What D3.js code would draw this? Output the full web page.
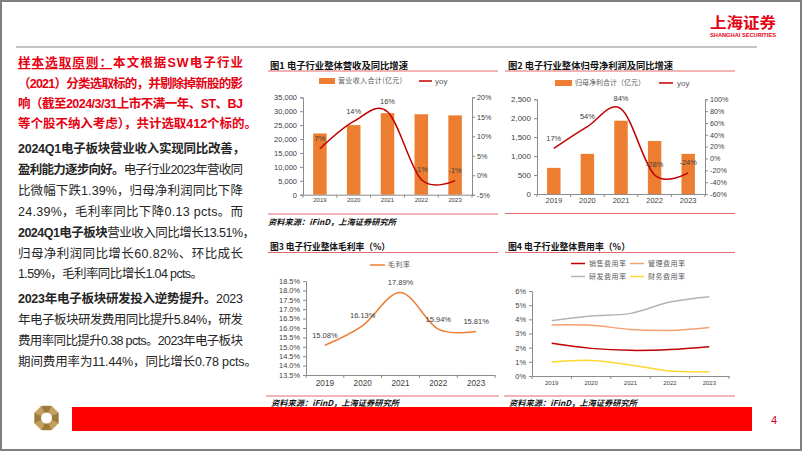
<!DOCTYPE html>
<html><head><meta charset="utf-8">
<script src="https://cdn.jsdelivr.net/npm/d3@7"></script>
<style>
body{margin:0;background:#fff;}
svg{display:block;}
text{font-family:"Liberation Sans",Arial,"Noto Sans CJK SC",sans-serif;}
</style></head><body>
<svg id="c" width="802" height="451"></svg>
<script>
// ---------- data ----------
const years = ["2019","2020","2021","2022","2023"];
const revenue = [22000, 25000, 29300, 28900, 28500];
const revenueYoy = [6.8, 13.8, 16.3, -1.1, -1.39];
const revenueYoyLabels = ["7%","14%","16%","-1%","-1%"];
const revTicks = [0,5000,10000,15000,20000,25000,30000,35000];
const revYoyTicks = [-5,0,5,10,15,20];

const profit = [690, 1060, 1935, 1400, 1060];
const profitYoy = [17, 54, 84, -28, -24.39];
const profitYoyLabels = ["17%","54%","84%","-28%","-24%"];
const profitTicks = [0,500,1000,1500,2000,2500];
const profitYoyTicks = [-60,-40,-20,0,20,40,60,80,100];

const grossMargin = [15.08, 16.13, 17.89, 15.94, 15.81];
const grossMarginLabels = ["15.08%","16.13%","17.89%","15.94%","15.81%"];
const gmTicks = [13.5,14,14.5,15,15.5,16,16.5,17,17.5,18,18.5];

const salesRate = [2.31, 1.95, 1.81, 1.87, 2.07];
const adminRate = [3.60, 3.58, 3.29, 3.22, 3.43];
const rdRate = [3.90, 4.23, 4.42, 5.22, 5.60];
const finRate = [0.99, 1.10, 0.78, 0.35, 0.30];
const feeTicks = [0,1,2,3,4,5,6];
const feeSeriesNames = ["销售费用率","管理费用率","研发费用率","财务费用率"];

// ---------- helpers ----------
const svg = d3.select("#c");
svg.append("rect").attr("width",802).attr("height",451).attr("fill","#fff");
svg.append("rect").attr("x",1).attr("y",1).attr("width",800).attr("height",449)
  .attr("fill","none").attr("stroke","#7f7f7f").attr("stroke-width",2);

const AX = "#8c8c8c", TX = "#404040", RED_LINE = "#e46a6a";
const CJK = "'Noto Sans CJK SC',sans-serif";

function styleAxis(g, fs){
  g.select(".domain").attr("stroke",AX);
  g.selectAll(".tick line").attr("stroke",AX);
  g.selectAll("text").attr("fill",TX).style("font-size",fs+"px")
    .style("font-family","'Liberation Sans',Arial,sans-serif");
}
function title(x,y,txt,len){
  svg.append("text").attr("x",x).attr("y",y).text(txt)
    .style("font-family",CJK).style("font-weight","bold").style("font-size","9px")
    .attr("fill","#111").attr("textLength",len).attr("lengthAdjust","spacingAndGlyphs");
}
function hline(x1,x2,y,color,w){
  svg.append("line").attr("x1",x1).attr("x2",x2).attr("y1",y).attr("y2",y)
    .attr("stroke",color).attr("stroke-width",w);
}
function source(x,y){
  svg.append("text").attr("x",x).attr("y",y).text("资料来源：iFinD，上海证券研究所")
    .style("font-family",CJK).style("font-weight","bold").style("font-style","italic")
    .style("font-size","8px").attr("fill","#111").attr("textLength",128).attr("lengthAdjust","spacingAndGlyphs");
}
function legendText(x,y,txt,len){
  svg.append("text").attr("x",x).attr("y",y).attr("dy","0.35em").text(txt)
    .style("font-family",CJK).style("font-size","7px").attr("fill","#595959")
    .attr("textLength",len).attr("lengthAdjust","spacing");
}
function boundaryTicks(xs, y){
  const step = xs.step(), dom = xs.domain();
  const b = dom.map(d => xs(d) + xs.bandwidth()/2 - step/2);
  b.push(xs(dom[dom.length-1]) + xs.bandwidth()/2 + step/2);
  svg.append("g").selectAll("line").data(b).join("line")
    .attr("x1",d=>d).attr("x2",d=>d).attr("y1",y).attr("y2",y+3).attr("stroke",AX);
}
const smooth = d3.curveCatmullRom.alpha(0);

// ---------- header ----------
hline(16,757,47,"#8c8c8c",1.2);
svg.append("text").attr("x",710).attr("y",27.5).text("上海证券")
  .style("font-family",CJK).style("font-weight","bold").style("font-size","15px")
  .attr("fill","#e60012").attr("textLength",66).attr("lengthAdjust","spacingAndGlyphs");
svg.append("text").attr("x",710).attr("y",37).text("SHANGHAI SECURITIES")
  .style("font-weight","bold").style("font-size","6px")
  .attr("fill","#e60012").attr("textLength",66).attr("lengthAdjust","spacingAndGlyphs");

// ---------- left text ----------
const RED = "#e60012", BLK = "#262626";
const paraLines = [
  {y:67, c:RED, w:225, s:[["样本选取原则：",1,1],["本文根据",1],["SW",1],["电子行业",1]]},
  {y:88, c:RED, w:225, s:[["（",1],["2021",1],["）分类选取标的，并剔除掉新股的影",1]]},
  {y:108, c:RED, w:225, s:[["响（截至",1],["2024/3/31",1],["上市不满一年、",1],["ST",1],["、",1],["BJ",1]]},
  {y:128, c:RED, w:239, s:[["等个股不纳入考虑），共计选取",1],["412",1],["个标的。",1]]},
  {y:153, c:BLK, w:227, s:[["2024Q1电子板块营业收入实现同比改善，",1]]},
  {y:174, c:BLK, w:225, s:[["盈利能力逐步向好。",1],["电子行业2023年营收同",0]]},
  {y:195, c:BLK, w:225, s:[["比微幅下跌1.39%，归母净利润同比下降",0]]},
  {y:216, c:BLK, w:225, s:[["24.39%，毛利率同比下降0.13 pcts。而",0]]},
  {y:237, c:BLK, w:237, s:[["2024Q1电子板块",1],["营业收入同比增长13.51%，",0]]},
  {y:258, c:BLK, w:225, s:[["归母净利润同比增长60.82%、环比成长",0]]},
  {y:278, c:BLK, w:185, s:[["1.59%，毛利率同比增长1.04 pcts。",0]]},
  {y:303, c:BLK, w:225, s:[["2023年电子板块研发投入逆势提升。",1],["2023",0]]},
  {y:324, c:BLK, w:225, s:[["年电子板块研发费用同比提升5.84%，研发",0]]},
  {y:345, c:BLK, w:225, s:[["费用率同比提升0.38 pcts。2023年电子板块",0]]},
  {y:366, c:BLK, w:239, s:[["期间费用率为11.44%，同比增长0.78 pcts。",0]]}
];
paraLines.forEach(L=>{
  const t = svg.append("text").attr("x",18).attr("y",L.y).attr("fill",L.c)
    .style("font-size","12.5px").style("font-family","'Liberation Sans','Noto Sans CJK SC',sans-serif")
    .attr("textLength",L.w).attr("lengthAdjust","spacing");
  L.s.forEach(seg=>{
    const ts = t.append("tspan").text(seg[0]).style("font-weight",seg[1]?"bold":"normal");
    if(seg[2]) ts.style("text-decoration","underline");
  });
});

// ---------- chart 1 ----------
title(270,68.5,"图1 电子行业整体营收及同比增速",138);
hline(268,498,71,RED_LINE,1);
svg.append("rect").attr("x",319).attr("y",78).attr("width",16).attr("height",6).attr("fill","#ED7D31");
legendText(338,81,"营业收入合计(亿元)",64);
hline(419,432,81,"#c00000",1.5);
svg.append("text").attr("x",435).attr("y",81).attr("dy","0.35em").text("yoy")
  .style("font-size","8px").attr("fill","#595959");

const x1 = d3.scaleBand(years,[303,472]).paddingInner(0.6).paddingOuter(0.3);
const yL1 = d3.scaleLinear([0,35000],[194.7,97.3]);
const yR1 = d3.scaleLinear([-5,20],[194.7,97.3]);
svg.append("g").selectAll("rect").data(years).join("rect")
  .attr("x",d=>x1(d)).attr("width",x1.bandwidth())
  .attr("y",(d,i)=>yL1(revenue[i])).attr("height",(d,i)=>yL1(0)-yL1(revenue[i]))
  .attr("fill","#ED7D31");
styleAxis(svg.append("g").attr("transform","translate(303,0)")
  .call(d3.axisLeft(yL1).tickValues(revTicks).tickFormat(d3.format(",")).tickSize(3).tickPadding(3)),7.5);
styleAxis(svg.append("g").attr("transform","translate(472,0)")
  .call(d3.axisRight(yR1).tickValues(revYoyTicks).tickFormat(d=>d+"%").tickSize(3).tickPadding(2)),7.2);
styleAxis(svg.append("g").attr("transform","translate(0,194.7)")
  .call(d3.axisBottom(x1).tickSize(0).tickPadding(3)),6);
boundaryTicks(x1,194.7);
const cx1 = d=>x1(d)+x1.bandwidth()/2;
svg.append("path").datum(revenueYoy)
  .attr("d",d3.line().x((d,i)=>cx1(years[i])).y(d=>yR1(d)).curve(smooth))
  .attr("fill","none").attr("stroke","#c00000").attr("stroke-width",1.5);
svg.append("g").selectAll("text").data(revenueYoyLabels).join("text")
  .attr("x",(d,i)=>cx1(years[i])).attr("y",(d,i)=>yR1(revenueYoy[i])-7.3)
  .attr("text-anchor","middle").text(d=>d).style("font-size","7.5px").attr("fill",TX);
hline(268,498,214,RED_LINE,1);
source(268,225);

// ---------- chart 2 ----------
title(508,68.5,"图2 电子行业整体归母净利润及同比增速",165);
hline(505,735,71,RED_LINE,1);
svg.append("rect").attr("x",555).attr("y",80).attr("width",17).attr("height",6).attr("fill","#ED7D31");
legendText(575,83,"归母净利合计（亿元）",70);
hline(659,673,83,"#c00000",1.5);
svg.append("text").attr("x",677).attr("y",83).attr("dy","0.35em").text("yoy")
  .style("font-size","8px").attr("fill","#595959");

const x2 = d3.scaleBand(years,[537,705]).paddingInner(0.6).paddingOuter(0.3);
const yL2 = d3.scaleLinear([0,2500],[194,99.3]);
const yR2 = d3.scaleLinear([-60,100],[194,99.3]);
svg.append("g").selectAll("rect").data(years).join("rect")
  .attr("x",d=>x2(d)).attr("width",x2.bandwidth())
  .attr("y",(d,i)=>yL2(profit[i])).attr("height",(d,i)=>yL2(0)-yL2(profit[i]))
  .attr("fill","#ED7D31");
styleAxis(svg.append("g").attr("transform","translate(537,0)")
  .call(d3.axisLeft(yL2).tickValues(profitTicks).tickFormat(d3.format(",")).tickSize(3).tickPadding(3)),8);
styleAxis(svg.append("g").attr("transform","translate(705,0)")
  .call(d3.axisRight(yR2).tickValues(profitYoyTicks).tickFormat(d=>d+"%").tickSize(3).tickPadding(2)),7.2);
styleAxis(svg.append("g").attr("transform","translate(0,194)")
  .call(d3.axisBottom(x2).tickSize(0).tickPadding(4)),7.5);
boundaryTicks(x2,194);
const cx2 = d=>x2(d)+x2.bandwidth()/2;
svg.append("path").datum(profitYoy)
  .attr("d",d3.line().x((d,i)=>cx2(years[i])).y(d=>yR2(d)).curve(smooth))
  .attr("fill","none").attr("stroke","#c00000").attr("stroke-width",1.5);
svg.append("g").selectAll("text").data(profitYoyLabels).join("text")
  .attr("x",(d,i)=>cx2(years[i])).attr("y",(d,i)=>yR2(profitYoy[i])-7.8)
  .attr("text-anchor","middle").text(d=>d).style("font-size","7.5px").attr("fill",TX);
hline(505,735,213.5,RED_LINE,1);

// ---------- chart 3 ----------
title(270,249.5,"图3 电子行业整体毛利率（%）",120);
hline(268,498,252.5,RED_LINE,1);
hline(370,385,265,"#ED7D31",1.5);
legendText(388,265,"毛利率",22);

const x3 = d3.scaleBand(years,[306,495]);
const y3 = d3.scaleLinear([13.5,18.5],[375,281]);
styleAxis(svg.append("g").attr("transform","translate(306,0)")
  .call(d3.axisLeft(y3).tickValues(gmTicks).tickFormat(d=>d3.format(".1f")(d)+"%").tickSize(3).tickPadding(3)),7.4);
styleAxis(svg.append("g").attr("transform","translate(0,375)")
  .call(d3.axisBottom(x3).tickSize(0).tickPadding(5)),8.2);
boundaryTicks(x3,375);
const cx3 = d=>x3(d)+x3.bandwidth()/2;
svg.append("path").datum(grossMargin)
  .attr("d",d3.line().x((d,i)=>cx3(years[i])).y(d=>y3(d)).curve(smooth))
  .attr("fill","none").attr("stroke","#ED7D31").attr("stroke-width",1.5);
svg.append("g").selectAll("text").data(grossMarginLabels).join("text")
  .attr("x",(d,i)=>cx3(years[i])).attr("y",(d,i)=>y3(grossMargin[i])-7.5)
  .attr("text-anchor","middle").text(d=>d).style("font-size","7.5px").attr("fill",TX);
hline(266,499,396,RED_LINE,1);
source(271,406);

// ---------- chart 4 ----------
title(508,249.5,"图4 电子行业整体费用率（%）",122);
hline(505,735,252.5,RED_LINE,1);
const feeColors = ["#c00000","#f4a070","#b4b4b4","#ffd633"];
const feeData = [salesRate, adminRate, rdRate, finRate];
const legPos = [[571,263.5],[630,263.5],[571,276.5],[630,276.5]];
feeSeriesNames.forEach((n,i)=>{
  hline(legPos[i][0],legPos[i][0]+14,legPos[i][1],feeColors[i],1.5);
  legendText(legPos[i][0]+18,legPos[i][1],n,37);
});
const x4 = d3.scaleBand(years,[532,729]);
const y4 = d3.scaleLinear([0,6],[376,291]);
styleAxis(svg.append("g").attr("transform","translate(532,0)")
  .call(d3.axisLeft(y4).tickValues(feeTicks).tickFormat(d=>d+"%").tickSize(3).tickPadding(3)),7.4);
styleAxis(svg.append("g").attr("transform","translate(0,376)")
  .call(d3.axisBottom(x4).tickSize(0).tickPadding(4.5)),6);
boundaryTicks(x4,376);
const cx4 = d=>x4(d)+x4.bandwidth()/2;
feeData.forEach((arr,k)=>{
  svg.append("path").datum(arr)
    .attr("d",d3.line().x((d,i)=>cx4(years[i])).y(d=>y4(d)).curve(smooth))
    .attr("fill","none").attr("stroke",feeColors[k]).attr("stroke-width",1.5);
});
hline(504,735,396,RED_LINE,1);
source(509,406);

// ---------- footer ----------
const oc = [46.5,418], R = 13;
const pts = d3.range(8).map(k=>{const a=(22.5+45*k)*Math.PI/180;return [oc[0]+R*Math.cos(a),oc[1]+R*Math.sin(a)];});
const og = svg.append("g");
pts.forEach((p,k)=>{
  const q = pts[(k+1)%8];
  og.append("path").attr("d",`M${oc[0]},${oc[1]}L${p[0]},${p[1]}L${q[0]},${q[1]}Z`)
    .attr("fill",k%2?"#9c7a3a":"#c4a060").attr("stroke","#b38f4f").attr("stroke-width",0.5);
});
og.append("circle").attr("cx",oc[0]).attr("cy",oc[1]).attr("r",5.5).attr("fill","#fff");
svg.append("rect").attr("x",72).attr("y",407).attr("width",680).attr("height",24).attr("fill","#ff0000");
svg.append("text").attr("x",771).attr("y",424).text("4").style("font-size","11px").attr("fill","#d0021b");
</script>
</body></html>
